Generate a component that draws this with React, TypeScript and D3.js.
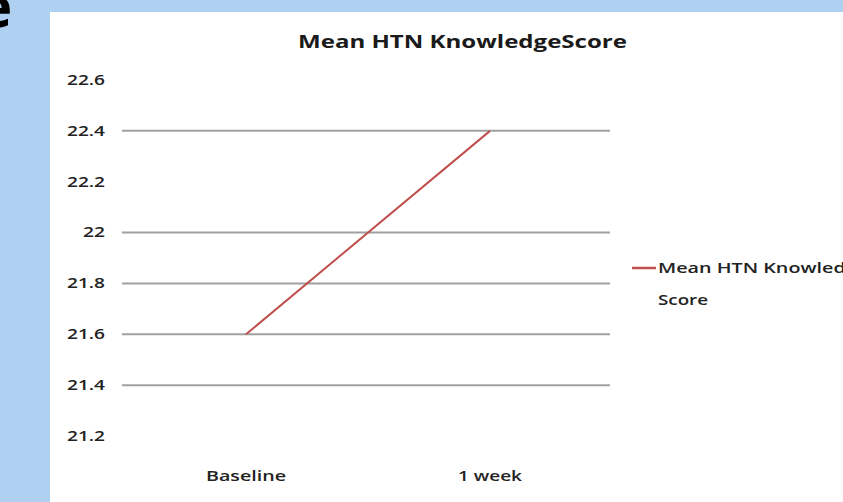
import * as d3 from "d3";

// chart data
const categories = ["Baseline", "1 week"];
const scores = [21.6, 22.4];
const yTicks = [21.2, 21.4, 21.6, 21.8, 22, 22.2, 22.4, 22.6];
// the screenshot only shows some of the grid lines
const gridValues = [21.4, 21.6, 21.8, 22, 22.4];
const seriesName = "Mean HTN Knowledge Score";

const W = 843;
const H = 502;
const FONT = "'Open Sans', 'Liberation Sans', Arial, sans-serif";

// rough width of a label in the stretched screenshot
const labelWidth = (s: string) =>
  s.split("").reduce((w, ch) => w + (ch === "." ? 5 : 11), 0);

export default function App() {
  const x = d3.scalePoint<string>().domain(categories).range([124, 612]).padding(0.5);
  const y = d3.scaleLinear().domain([21.2, 22.6]).range([436, 80]);

  const line = d3
    .line<number>()
    .x((_, i) => x(categories[i]) as number)
    .y((d) => y(d));

  return (
    <svg
      width={W}
      height={H}
      style={{ position: "fixed", left: 0, top: 0, display: "block" }}
      fontFamily={FONT}
    >
      <rect width={W} height={H} fill="#aed1f1" />
      {/* slide title fragment bleeding in at the top-left */}
      <text x={-22} y={27} fontSize={58} fontWeight="bold" fill="#000">e</text>
      <rect x={50} y={12} width={W - 50} height={H - 12} fill="#fff" />

      <text x={298} y={48} fontSize={18} fontWeight="bold" fill="#1a1a1a" textLength={329} lengthAdjust="spacingAndGlyphs">
        Mean HTN KnowledgeScore
      </text>

      {gridValues.map((v) => (
        <line key={v} x1={122} x2={610} y1={y(v)} y2={y(v)} stroke="#a0a0a0" strokeWidth={2} />
      ))}

      {yTicks.map((t) => {
        const s = d3.format("")(t);
        return (
          <text key={t} x={105} y={y(t)} dy="0.35em" textAnchor="end" fontSize={14} fontWeight={600} fill="#222"
            textLength={labelWidth(s)} lengthAdjust="spacingAndGlyphs">
            {s}
          </text>
        );
      })}

      {categories.map((c, i) => (
        <text key={c} x={x(c)} y={481} textAnchor="middle" fontSize={15} fontWeight={600} fill="#222"
          textLength={i === 0 ? 80 : 64} lengthAdjust="spacingAndGlyphs">
          {c}
        </text>
      ))}

      <path d={line(scores) ?? ""} fill="none" stroke="#c0504d" strokeWidth={2} />

      {/* legend, clipped at the window edge */}
      <line x1={632} x2={656} y1={268} y2={268} stroke="#c0504d" strokeWidth={2.5} />
      <text x={658} y={273} fontSize={15} fontWeight={600} fill="#222" textLength={210} lengthAdjust="spacingAndGlyphs">
        {seriesName.replace(" Score", "")}
      </text>
      <text x={658} y={305} fontSize={15} fontWeight={600} fill="#222" textLength={50} lengthAdjust="spacingAndGlyphs">Score</text>
    </svg>
  );
}
